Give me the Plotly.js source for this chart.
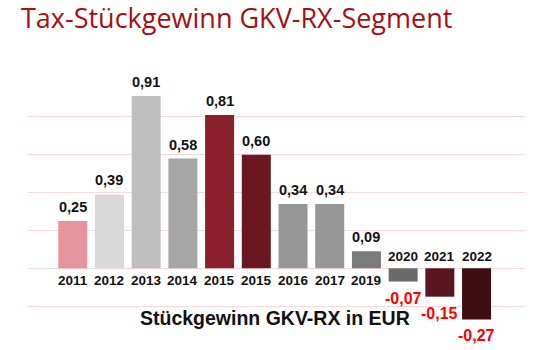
<!DOCTYPE html>
<html>
<head>
<meta charset="utf-8">
<script src="https://cdn.plot.ly/plotly-3.0.1.min.js"></script>
<style>html,body{margin:0;padding:0;background:#fff;}#chart{width:546px;height:350px;}</style>
</head>
<body>
<div id="chart"></div>
<script>
const years = ["2011","2012","2013","2014","2015","2015","2016","2017","2019","2020","2021","2022"];
const values = [0.25, 0.39, 0.91, 0.58, 0.81, 0.60, 0.34, 0.34, 0.09, -0.07, -0.15, -0.27];
const barColors = ["#e5949b","#d9d9d9","#bfbfbf","#a6a6a6","#8b202d","#6a1820","#969696","#969696","#7a7a7a","#6a6a6a","#5a1520","#3f0d14"];

const pos = years.map((_, i) => i);
const fmt = v => v.toFixed(2).replace(".", ",");
const FONT = "Liberation Sans, Arial, sans-serif";

const bars = {
  type: "bar",
  x: pos,
  y: values,
  marker: {color: barColors},
  hoverinfo: "skip"
};

const valueAnn = values.map((v, i) => ({
  x: pos[i], y: v, xref: "x", yref: "y", text: fmt(v), showarrow: false,
  xanchor: "center", yanchor: v < 0 ? "top" : "bottom", yshift: v < 0 ? -6 : 4,
  font: {family: FONT, size: v < 0 ? 16 : 14.5, color: v < 0 ? "#ff0000" : "#111111", weight: "bold"}
}));

const yearAnn = years.map((y, i) => ({
  x: pos[i], y: 0, xref: "x", yref: "y", text: y, showarrow: false,
  xanchor: "center", yanchor: values[i] < 0 ? "bottom" : "top", yshift: values[i] < 0 ? 2 : -3,
  font: {family: FONT, size: 13.5, color: "#111111", weight: "bold"}
}));

const layout = {
  width: 546, height: 350,
  margin: {l: 28, r: 21, t: 79, b: 6},
  paper_bgcolor: "#ffffff", plot_bgcolor: "#ffffff",
  showlegend: false,
  bargap: 0.21,
  title: {text: "Tax-Stückgewinn GKV-RX-Segment", x: 21/546, xanchor: "left", y: 1 - 19/350, yanchor: "middle",
          font: {family: "Open Sans, sans-serif", size: 27, color: "#a50f15", weight: 500}},
  xaxis: {range: [-1.22, 12.32], showgrid: false, zeroline: false, showticklabels: false, ticks: "", fixedrange: true},
  yaxis: {range: [-0.4, 1.0], dtick: 0.2, tick0: 0, showgrid: true, gridcolor: "#fbd9dc", gridwidth: 1,
          zeroline: true, zerolinecolor: "#fbd9dc", zerolinewidth: 1, showticklabels: false, ticks: "", fixedrange: true},
  annotations: valueAnn.concat(yearAnn, [{
    text: "Stückgewinn GKV-RX in EUR", xref: "paper", yref: "paper",
    x: (275 - 28) / 497, y: (344 - 318) / 265, xanchor: "center", yanchor: "middle", showarrow: false,
    font: {family: FONT, size: 19.5, color: "#111111", weight: "bold"}
  }])
};

Plotly.newPlot("chart", [bars], layout, {displayModeBar: false, staticPlot: true});
</script>
</body>
</html>
